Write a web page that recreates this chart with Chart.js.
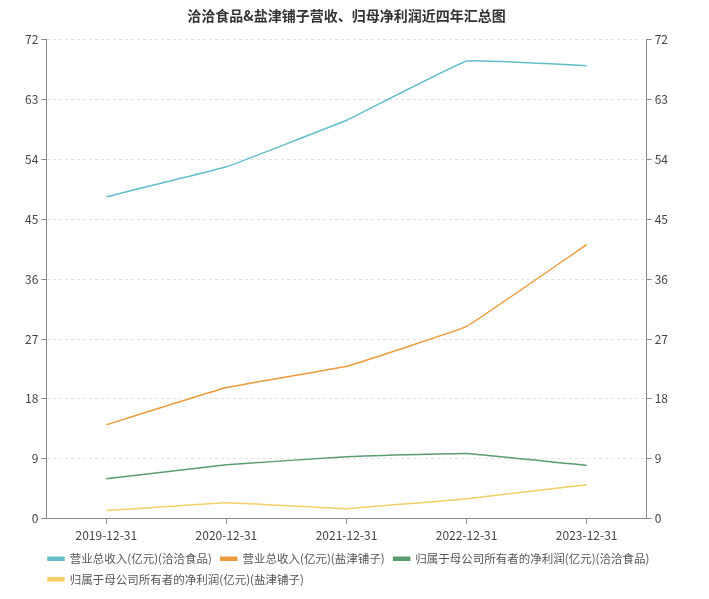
<!DOCTYPE html>
<html>
<head>
<meta charset="utf-8">
<script src="https://cdn.jsdelivr.net/npm/chart.js@4/dist/chart.umd.min.js"></script>
<style>
  html, body { margin: 0; padding: 0; background: #fff; }
  #wrap { width: 709px; height: 599px; }
</style>
</head>
<body>
<div id="wrap"><canvas id="chart" width="709" height="599"></canvas></div>
<script>
// Data
const years = ['2019-12-31', '2020-12-31', '2021-12-31', '2022-12-31', '2023-12-31'];
const qiaqiaRevenue = [48.4, 52.9, 59.9, 68.8, 68.1];
const yanjinRevenue = [14.1, 19.7, 22.9, 28.9, 41.2];
const qiaqiaProfit = [6.0, 8.1, 9.3, 9.8, 8.0];
const yanjinProfit = [1.2, 2.4, 1.5, 3.0, 5.1];
const seriesNames = [
  '营业总收入(亿元)(洽洽食品)',
  '营业总收入(亿元)(盐津铺子)',
  '归属于母公司所有者的净利润(亿元)(洽洽食品)',
  '归属于母公司所有者的净利润(亿元)(盐津铺子)'
];
const colors = ['#62bfc9', '#ee9a3a', '#5a9b70', '#f2cf66'];

const fontFamily = '"Noto Sans CJK SC", "Noto Sans", sans-serif';

function makeSet(i, data) {
  return {
    label: seriesNames[i],
    data: data,
    borderColor: colors[i],
    backgroundColor: colors[i],
    borderWidth: 1.5,
    pointRadius: 0,
    pointHoverRadius: 0,
    tension: 0.06,
    yAxisID: 'y'
  };
}

// nudge the legend: a bit to the right and up, like the original
const legendNudge = {
  id: 'legendNudge',
  afterLayout(chart) {
    const lg = chart.legend;
    if (!lg) return;
    lg.left += 17;
    lg.right += 17;
    lg.top -= 4;
    lg.bottom -= 4;
  }
};

const ctx = document.getElementById('chart');
new Chart(ctx, {
  type: 'line',
  data: {
    labels: years,
    datasets: [
      makeSet(0, qiaqiaRevenue),
      makeSet(1, yanjinRevenue),
      makeSet(2, qiaqiaProfit),
      makeSet(3, yanjinProfit)
    ]
  },
  plugins: [legendNudge],
  options: {
    responsive: false,
    animation: false,
    layout: { padding: { left: 22, right: 38, top: 4, bottom: 0 } },
    plugins: {
      title: {
        display: true,
        text: '洽洽食品&盐津铺子营收、归母净利润近四年汇总图',
        color: '#333',
        font: { family: fontFamily, size: 14, weight: 'bold' },
        padding: { top: 3, bottom: 16 }
      },
      legend: {
        position: 'bottom',
        align: 'start',
        labels: {
          color: '#555',
          font: { family: fontFamily, size: 11.5 },
          boxWidth: 16,
          boxHeight: 3,
          padding: 9
        }
      },
      tooltip: { enabled: false }
    },
    scales: {
      x: {
        offset: true,
        grid: {
          display: true,
          drawOnChartArea: false,
          drawTicks: true,
          tickLength: 5,
          tickColor: '#888',
          offset: false
        },
        border: { display: true, color: '#888' },
        ticks: {
          color: '#444',
          font: { family: fontFamily, size: 12 },
          maxRotation: 0,
          padding: 5
        }
      },
      y: {
        position: 'left',
        min: 0,
        max: 72,
        ticks: {
          stepSize: 9,
          color: '#444',
          font: { family: fontFamily, size: 12 },
          padding: 3
        },
        grid: {
          color: '#e2e2e2',
          tickColor: '#888',
          tickLength: 5,
          tickBorderDash: []
        },
        border: { display: true, color: '#888', dash: [3, 3] }
      },
      y1: {
        position: 'right',
        min: 0,
        max: 72,
        ticks: {
          stepSize: 9,
          color: '#444',
          font: { family: fontFamily, size: 12 },
          padding: 3
        },
        grid: {
          drawOnChartArea: false,
          tickColor: '#888',
          tickLength: 5
        },
        border: { display: true, color: '#888' }
      }
    }
  }
});
</script>
</body>
</html>
